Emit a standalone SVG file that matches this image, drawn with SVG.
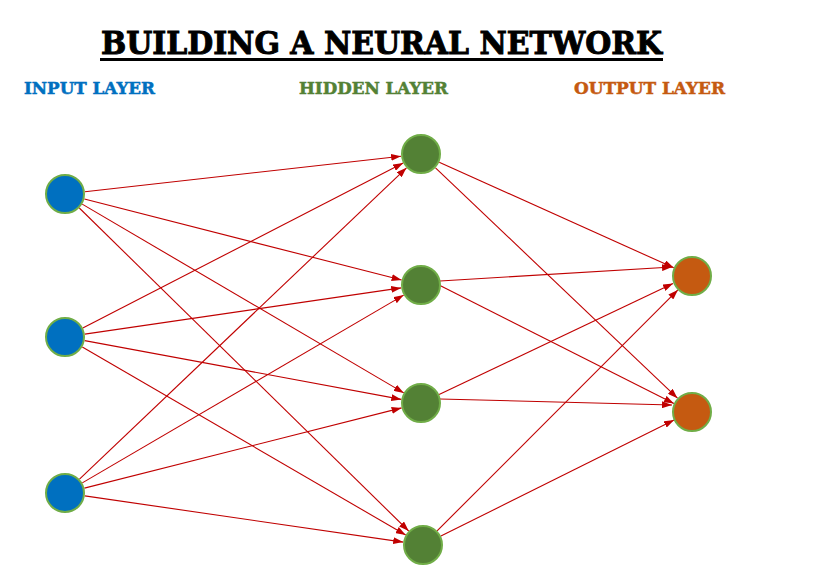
<svg xmlns="http://www.w3.org/2000/svg" width="814" height="587" viewBox="0 0 814 587">
<defs>
<marker id="arr" viewBox="0 0 10 7" refX="10" refY="3.5" markerWidth="10" markerHeight="7" markerUnits="userSpaceOnUse" orient="auto">
<path d="M0,0 L10,3.5 L0,7 z" fill="#C00000"/>
</marker>
<style>
.title{font-family:"DejaVu Serif","Liberation Serif",serif;font-weight:bold;font-size:32px;fill:#000;stroke:#000;stroke-width:1}
.lbl{font-family:"DejaVu Serif","Liberation Serif",serif;font-weight:bold;font-size:16px;stroke-width:0.5}
.edge{stroke:#C00000;stroke-width:1.1;fill:none;marker-end:url(#arr)}
.node{stroke:#70AD47;stroke-width:2}
.in{fill:#0070C0}.hid{fill:#538135}.out{fill:#C55A11}
</style>
</defs>
<rect width="814" height="587" fill="#fff"/>
<g id="title">
<text class="title" x="101" y="54" textLength="561" lengthAdjust="spacingAndGlyphs">BUILDING A NEURAL NETWORK</text>
<rect x="100" y="58" width="563" height="3" fill="#000"/>
</g>
<g id="layer-labels">
<text class="lbl" x="24" y="94" fill="#0070C0" stroke="#0070C0" textLength="131" lengthAdjust="spacingAndGlyphs">INPUT LAYER</text>
<text class="lbl" x="299" y="94" fill="#538135" stroke="#538135" textLength="149" lengthAdjust="spacingAndGlyphs">HIDDEN LAYER</text>
<text class="lbl" x="574" y="94" fill="#C55A11" stroke="#C55A11" textLength="151" lengthAdjust="spacingAndGlyphs">OUTPUT LAYER</text>
</g>
<g id="connectors">
<line class="edge" x1="84.9" y1="191.8" x2="401.1" y2="156.2"/>
<line class="edge" x1="84.4" y1="199.0" x2="401.6" y2="280.0"/>
<line class="edge" x1="82.2" y1="204.1" x2="403.8" y2="392.9"/>
<line class="edge" x1="79.3" y1="208.0" x2="408.7" y2="531.0"/>
<line class="edge" x1="82.8" y1="327.9" x2="403.2" y2="163.1"/>
<line class="edge" x1="84.8" y1="334.1" x2="401.2" y2="287.9"/>
<line class="edge" x1="84.7" y1="340.6" x2="401.3" y2="399.4"/>
<line class="edge" x1="82.3" y1="347.0" x2="405.7" y2="535.0"/>
<line class="edge" x1="79.5" y1="479.2" x2="406.5" y2="167.8"/>
<line class="edge" x1="82.3" y1="482.9" x2="403.7" y2="295.1"/>
<line class="edge" x1="84.4" y1="488.1" x2="401.6" y2="407.9"/>
<line class="edge" x1="84.8" y1="495.9" x2="403.2" y2="542.1"/>
<line class="edge" x1="439.2" y1="162.2" x2="673.8" y2="267.8"/>
<line class="edge" x1="435.5" y1="167.8" x2="677.5" y2="398.2"/>
<line class="edge" x1="440.0" y1="281.0" x2="672.0" y2="267.0"/>
<line class="edge" x1="440.0" y1="285.5" x2="673.9" y2="403.5"/>
<line class="edge" x1="439.1" y1="394.5" x2="673.0" y2="283.5"/>
<line class="edge" x1="440.0" y1="399.0" x2="672.0" y2="405.0"/>
<line class="edge" x1="437.1" y1="530.9" x2="677.9" y2="289.9"/>
<line class="edge" x1="440.9" y1="536.1" x2="674.1" y2="420.0"/>
</g>
<g id="input1"><circle class="node in" cx="65" cy="194" r="19"/></g>
<g id="input2"><circle class="node in" cx="65" cy="337" r="19"/></g>
<g id="input3"><circle class="node in" cx="65" cy="493" r="19"/></g>
<g id="hidden1"><circle class="node hid" cx="421" cy="154" r="19"/></g>
<g id="hidden2"><circle class="node hid" cx="421" cy="285" r="19"/></g>
<g id="hidden3"><circle class="node hid" cx="421" cy="403" r="19"/></g>
<g id="hidden4"><circle class="node hid" cx="423" cy="545" r="19"/></g>
<g id="output1"><circle class="node out" cx="692" cy="276" r="19"/></g>
<g id="output2"><circle class="node out" cx="692" cy="412" r="19"/></g>
</svg>
